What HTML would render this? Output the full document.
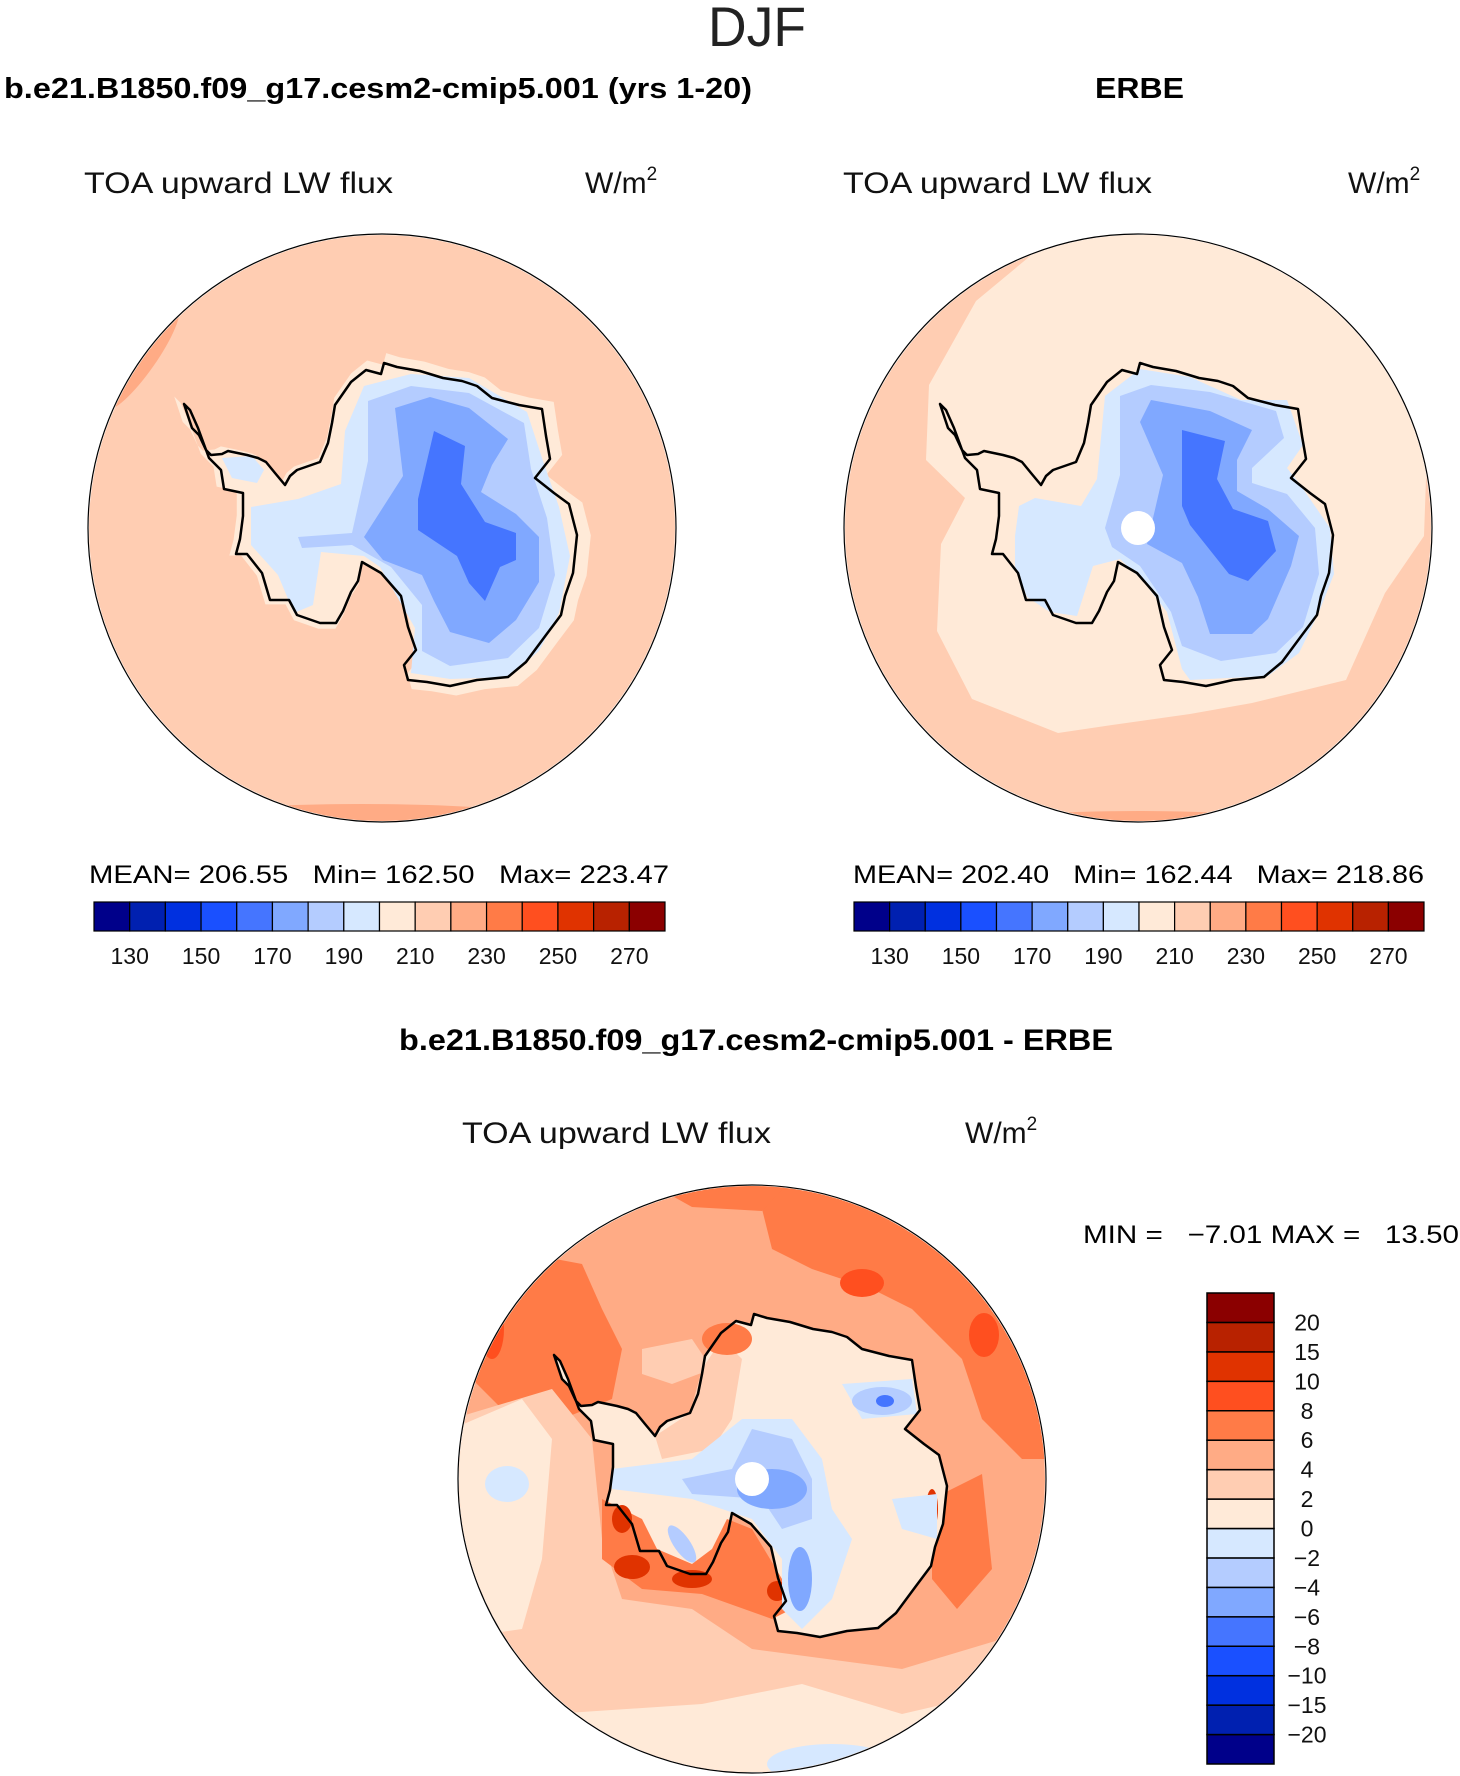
<!DOCTYPE html>
<html><head><meta charset="utf-8"><title>DJF TOA upward LW flux</title>
<style>
html,body{margin:0;padding:0;background:#fff;}
svg{display:block;font-family:"Liberation Sans",sans-serif;}
</style></head>
<body>
<svg id="page" width="1460" height="1776" viewBox="0 0 1460 1776" xmlns="http://www.w3.org/2000/svg">
<defs>
  <clipPath id="clipc"><circle cx="0" cy="0" r="293"/></clipPath>
  <path id="coast" d="M-198,-124 L-190,-100 L-183,-93 L-176,-78 L-171,-73 L-160,-74 L-154,-77 L-135,-73 L-124,-70 L-116,-66 L-107,-55 L-97,-43 L-92,-52 L-85,-58 L-62,-66 L-54,-85 L-50,-105 L-47,-123 L-31,-146 L-16,-158 L-1,-154 L2,-165 L15,-161 L38,-157 L61,-150 L80,-147 L95,-142 L110,-130 L137,-123 L160,-119 L164,-92 L168,-69 L153,-50 L172,-35 L187,-24 L195,7 L191,45 L183,68 L179,87 L164,107 L144,134 L126,149 L95,152 L68,158 L45,154 L26,152 L22,137 L34,122 L26,99 L19,68 L-1,45 L-20,34 L-24,53 L-31,64 L-39,83 L-46,95 L-62,95 L-85,87 L-93,72 L-112,72 L-120,45 L-135,26 L-146,26 L-142,11 L-139,-12 L-139,-35 L-158,-39 L-161,-58 L-173,-70 L-184,-100 L-192,-118 Z"/>
</defs>

<text x="757" y="46" font-size="56" text-anchor="middle" fill="#222" textLength="98" lengthAdjust="spacingAndGlyphs" font-weight="normal">DJF</text>

<text x="4" y="98" font-size="29" font-weight="bold" textLength="748" lengthAdjust="spacingAndGlyphs">b.e21.B1850.f09_g17.cesm2-cmip5.001 (yrs 1-20)</text>
<text x="1095" y="98" font-size="29" font-weight="bold" textLength="89" lengthAdjust="spacingAndGlyphs">ERBE</text>

<text x="84" y="193" font-size="30" textLength="309" lengthAdjust="spacingAndGlyphs" fill="#111">TOA upward LW flux</text>
<text x="585" y="193" font-size="30" fill="#111">W/m<tspan font-size="19" dy="-13">2</tspan></text>
<text x="843" y="193" font-size="30" textLength="309" lengthAdjust="spacingAndGlyphs" fill="#111">TOA upward LW flux</text>
<text x="1348" y="193" font-size="30" fill="#111">W/m<tspan font-size="19" dy="-13">2</tspan></text>

<!-- LEFT MAP -->
<g transform="translate(382,528)">
  <g clip-path="url(#clipc)">
    <circle r="294" fill="#ffcdb2"/>
    <ellipse cx="-240" cy="-170" rx="14" ry="62" transform="rotate(35 -240 -170)" fill="#ffab85"/>
    <ellipse cx="-20" cy="300" rx="230" ry="24" fill="#ffab85"/>
    <use href="#coast" transform="scale(1.06) translate(2,0)" fill="#ffead8"/>
    <polygon fill="#d6e8ff" points="-131,-21 -84,-29 -41,-44 -37,-97 -18,-142 29,-154 87,-150 145,-116 161,-67 177,-21 188,28 177,85 157,123 126,149 68,151 29,145 33,100 -2,39 -18,28 -61,24 -69,77 -88,85 -104,47 -131,17"/>
    <polygon fill="#d6e8ff" points="-160,-70 -130,-72 -118,-58 -125,-45 -150,-50"/>
    <polygon fill="#b4ccff" points="-84,9 -30,5 -14,-67 -14,-127 29,-142 87,-135 142,-105 149,-59 165,-10 173,47 157,100 126,130 68,138 40,123 40,77 9,39 -30,17 -80,20"/>
    <polygon fill="#80a8ff" points="-18,9 21,-52 13,-120 48,-131 87,-120 126,-89 110,-63 99,-36 134,-14 157,9 157,54 134,92 107,115 68,104 52,73 40,47 1,32"/>
    <polygon fill="#4575ff" points="52,-97 83,-82 79,-44 103,-6 134,5 134,32 118,39 103,73 87,55 75,28 36,2 36,-29"/>
  </g>
  <use href="#coast" fill="none" stroke="#000" stroke-width="2.5" stroke-linejoin="round"/>
  <circle r="294" fill="none" stroke="#000" stroke-width="1.2"/>
</g>

<!-- RIGHT MAP -->
<g transform="translate(1138,528)">
  <g clip-path="url(#clipc)">
    <circle r="294" fill="#ffcdb2"/>
    <polygon fill="#ffead8" points="-103,-310 -103,-276 -162,-227 -209,-143 -212,-68 -173,-30 -197,16 -201,103 -166,171 -80,205 -26,197 52,186 114,175 208,152 247,65 286,8 290,-106 227,-189 208,-219 130,-310"/>
    <ellipse cx="0" cy="295" rx="150" ry="12" fill="#ffab85"/>
    <polygon fill="#d6e8ff" points="-123,8 -119,-22 -103,-30 -57,-22 -41,-49 -33,-132 2,-159 52,-151 103,-128 149,-128 165,-83 149,-60 161,-45 192,0 196,46 181,84 161,125 130,148 52,152 44,141 29,84 5,53 -18,31 -45,38 -61,88 -88,84 -111,69 -123,38"/>
    <polygon fill="#b4ccff" points="-33,0 -18,-53 -18,-132 13,-143 72,-136 138,-117 146,-90 114,-60 114,-45 149,-34 177,0 181,46 165,99 138,125 83,133 44,118 33,84 2,38 -26,19"/>
    <polygon fill="#80a8ff" points="9,16 25,-53 2,-106 13,-128 72,-117 114,-98 99,-68 99,-37 130,-19 161,8 153,38 130,91 114,106 72,106 60,69 44,35"/>
    <polygon fill="#4575ff" points="44,-98 87,-87 79,-49 95,-19 130,-7 138,23 110,53 91,46 52,-3 44,-22"/>
    <circle r="17" fill="#fff"/>
  </g>
  <use href="#coast" fill="none" stroke="#000" stroke-width="2.5" stroke-linejoin="round"/>
  <circle r="294" fill="none" stroke="#000" stroke-width="1.2"/>
</g>

<text x="89" y="883" font-size="25" textLength="580" lengthAdjust="spacingAndGlyphs" xml:space="preserve">MEAN= 206.55   Min= 162.50   Max= 223.47</text>
<text x="853" y="883" font-size="25" textLength="571" lengthAdjust="spacingAndGlyphs" xml:space="preserve">MEAN= 202.40   Min= 162.44   Max= 218.86</text>
<g id="cbar-left"></g>
<g id="cbar-right"></g>

<text x="399" y="1050" font-size="30" font-weight="bold" textLength="714" lengthAdjust="spacingAndGlyphs">b.e21.B1850.f09_g17.cesm2-cmip5.001 - ERBE</text>
<text x="462" y="1143" font-size="30" textLength="309" lengthAdjust="spacingAndGlyphs" fill="#111">TOA upward LW flux</text>
<text x="965" y="1143" font-size="30" fill="#111">W/m<tspan font-size="19" dy="-13">2</tspan></text>
<text x="1083" y="1243" font-size="25" textLength="376" lengthAdjust="spacingAndGlyphs" xml:space="preserve">MIN =   −7.01 MAX =   13.50</text>

<!-- DIFF MAP -->
<g transform="translate(752,1479)">
  <g clip-path="url(#clipc)">
    <circle r="294" fill="#ffab85"/>
    <polygon fill="#ff7b47" points="40,-300 300,-300 300,-20 270,-20 230,-60 210,-120 160,-170 120,-190 60,-210 20,-230 10,-270"/>
    <polygon fill="#ff7b47" points="-110,-300 40,-300 10,-268 -60,-272"/>
    <polygon fill="#ff7b47" points="-300,-120 -250,-230 -170,-215 -150,-170 -130,-130 -140,-80 -190,-60 -250,-70"/>
    <polygon fill="#ff7b47" points="180,20 230,-5 240,90 205,130 180,100"/>
    <ellipse cx="110" cy="-196" rx="22" ry="14" fill="#ff4f1f"/>
    <ellipse cx="232" cy="-144" rx="15" ry="22" fill="#ff4f1f"/>
    <ellipse cx="-260" cy="-150" rx="12" ry="30" fill="#ff4f1f"/>
    <polygon fill="#ffcdb2" points="-300,-60 -200,-90 -160,-40 -150,60 -130,120 -60,130 0,170 150,190 250,160 300,160 300,300 -300,300"/>
    <polygon fill="#ffcdb2" points="-110,-130 -60,-140 -40,-110 -80,-95 -110,-105"/>
    <polygon fill="#ffead8" points="-300,-50 -230,-80 -200,-40 -210,80 -230,150 -300,160"/>
    <polygon fill="#ffead8" points="-200,235 -50,225 50,205 150,235 300,200 300,300 -200,300"/>
    <ellipse cx="80" cy="285" rx="65" ry="20" fill="#d6e8ff"/>
    <ellipse cx="-245" cy="5" rx="22" ry="18" fill="#d6e8ff"/>
    <use href="#coast" fill="#ffead8"/>
    <polygon fill="#ffcdb2" points="-97,-43 -62,-66 -50,-110 -30,-140 -10,-120 -20,-60 -40,-30 -90,-20"/>
    <ellipse cx="-25" cy="-140" rx="25" ry="16" fill="#ff7b47"/>
    <polygon fill="#ff7b47" points="-150,20 -110,40 -95,70 -60,85 -40,70 -25,40 0,50 30,100 40,130 20,140 -50,115 -110,110 -150,80"/>
    <ellipse cx="-120" cy="88" rx="18" ry="12" fill="#e03300"/>
    <ellipse cx="-60" cy="100" rx="20" ry="9" fill="#e03300"/>
    <ellipse cx="-130" cy="40" rx="10" ry="14" fill="#e03300"/>
    <ellipse cx="25" cy="112" rx="10" ry="10" fill="#e03300"/>
    <ellipse cx="180" cy="30" rx="6" ry="20" fill="#e03300"/>
    <polygon fill="#d6e8ff" points="-140,-10 -60,-20 -10,-60 40,-60 70,-20 80,30 100,60 80,120 50,150 30,130 30,80 0,40 -60,20 -140,10"/>
    <polygon fill="#d6e8ff" points="90,-95 160,-100 165,-65 110,-60"/>
    <polygon fill="#d6e8ff" points="140,20 185,15 185,60 150,50"/>
    <polygon fill="#b4ccff" points="-70,0 -20,-10 0,-50 40,-40 60,0 60,40 30,50 10,20 -60,15"/>
    <ellipse cx="130" cy="-78" rx="30" ry="14" fill="#b4ccff"/>
    <ellipse cx="48" cy="100" rx="12" ry="32" fill="#80a8ff"/>
    <ellipse cx="-70" cy="65" rx="8" ry="22" transform="rotate(-35 -70 65)" fill="#b4ccff"/>
    <ellipse cx="20" cy="10" rx="35" ry="20" fill="#80a8ff"/>
    <ellipse cx="133" cy="-78" rx="9" ry="6" fill="#4575ff"/>
    <circle r="17" fill="#fff"/>
  </g>
  <use href="#coast" fill="none" stroke="#000" stroke-width="2.5" stroke-linejoin="round"/>
  <circle r="294" fill="none" stroke="#000" stroke-width="1.2"/>
</g>
<g id="cbar-diff"></g>
</svg>
<script>
const absColors = ["#00008a","#0020b0","#0030e0","#1a50ff","#4575ff","#80a8ff","#b4ccff","#d6e8ff","#ffead8","#ffcdb2","#ffab85","#ff7b47","#ff4f1f","#e03300","#b82200","#8b0000"];
const absLevels = [130,140,150,160,170,180,190,200,210,220,230,240,250,260,270];
const absTickLabels = ["130","150","170","190","210","230","250","270"];
const diffColors = ["#00008a","#0020b0","#0030e0","#1a50ff","#4575ff","#80a8ff","#b4ccff","#d6e8ff","#ffead8","#ffcdb2","#ffab85","#ff7b47","#ff4f1f","#e03300","#b82200","#8b0000"];
const diffLevels = [-20,-15,-10,-8,-6,-4,-2,0,2,4,6,8,10,15,20];
const diffTickLabels = ["−20","−15","−10","−8","−6","−4","−2","0","2","4","6","8","10","15","20"];
const NS = "http://www.w3.org/2000/svg";
function mk(tag, attrs, parent){const e=document.createElementNS(NS,tag);for(const k in attrs)e.setAttribute(k,attrs[k]);parent.appendChild(e);return e;}
function hbar(id, x0, x1, y0, y1){
  const g=document.getElementById(id);
  const n=absColors.length, w=(x1-x0)/n;
  absColors.forEach((c,i)=>{
    const r=mk('rect',{x:x0+i*w,y:y0,width:w,height:y1-y0,fill:c,stroke:'#000','stroke-width':1.2},g);
    
    
  });
  absTickLabels.forEach((lab,j)=>{
    const idx=absLevels.indexOf(Number(lab))+1;
    const t=mk('text',{x:x0+idx*w,y:y1+33,'font-size':23,'text-anchor':'middle',fill:'#111'},g);
    
    
    t.textContent=lab;
  });
}
hbar('cbar-left',94,665,902,931);
hbar('cbar-right',854,1424,902,931);
(function(){
  const g=document.getElementById('cbar-diff');
  const x0=1207,x1=1274,y0=1293,y1=1764,n=diffColors.length,h=(y1-y0)/n;
  diffColors.forEach((c,i)=>{
    const r=mk('rect',{x:x0,y:y1-(i+1)*h,width:x1-x0,height:h,fill:c,stroke:'#000','stroke-width':1.5},g);
    
    
  });
  diffLevels.forEach((v,i)=>{
    const t=mk('text',{x:1307,y:y1-(i+1)*h+8,'font-size':23,'text-anchor':'middle',fill:'#111'},g);
    
    
    t.textContent=diffTickLabels[i];
  });
})();
</script>
</body></html>
